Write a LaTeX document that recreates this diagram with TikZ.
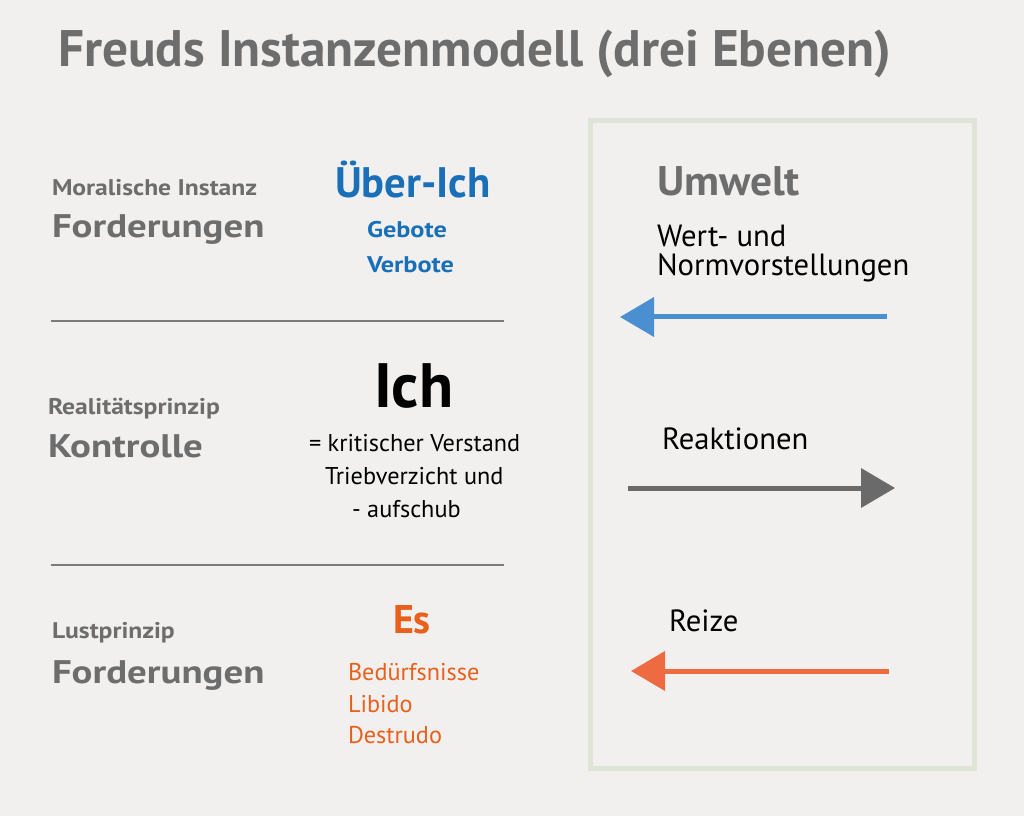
\documentclass[tikz,border=0pt]{standalone}
\usepackage{fontspec}
\setmainfont{PT Sans}
\usetikzlibrary{arrows.meta,positioning}
\definecolor{PaperGray}{HTML}{F1F0EE}
\definecolor{LabelGray}{HTML}{6D6D6D}
\definecolor{FrameGreen}{HTML}{DFE4D8}
\definecolor{UeberBlue}{HTML}{1A70B8}
\definecolor{EsOrange}{HTML}{E8601C}
\definecolor{ArrowBlue}{HTML}{4A8FD0}
\definecolor{ArrowOrange}{HTML}{EE6A40}
\definecolor{ArrowGray}{HTML}{6A6A6A}

\begin{document}
\begin{tikzpicture}[
          x=0.75pt, y=-0.75pt,
          every node/.style={inner sep=0pt, outer sep=0pt, anchor=base west},
          heading/.style={font=\fontsize{38.5}{40}\selectfont\bfseries, text=LabelGray},
          levelsub/.style={font=\fontsize{17}{20}\selectfont\bfseries\addfontfeatures{FakeStretch=1.13}, text=LabelGray},
          levelmain/.style={font=\fontsize{24.5}{28}\selectfont\bfseries\addfontfeatures{FakeStretch=1.19}, text=LabelGray},
          bodytext/.style={font=\fontsize{18.2}{20}\selectfont},
          envtext/.style={font=\fontsize{23}{26}\selectfont},
          divider/.style={draw=LabelGray!90, line width=1.5pt},
          flow/.style={line width=3.75pt, -{Triangle[length=25.5pt, width=29pt]}}
        ]
          % canvas
          \fill[PaperGray] (0,0) rectangle (1024,816);
          \useasboundingbox (0,0) rectangle (1024,816);

          \node[heading] (title) at (58,67) {Freuds Instanzenmodell (drei Ebenen)};

          % Ueber-Ich
          \node[levelsub] (moral) at (52,196) {Moralische Instanz};
          \node[levelmain] (ford1) at (52,238) {Forderungen};
          \node[font=\fontsize{32}{34}\selectfont\bfseries, text=UeberBlue] (ueberich) at (335,198) {Über-Ich};
          \node[font=\fontsize{17}{20}\selectfont\bfseries\addfontfeatures{FakeStretch=1.16}, text=UeberBlue] (gebote) at (367,238) {Gebote};
          \node[font=\fontsize{17}{20}\selectfont\bfseries\addfontfeatures{FakeStretch=1.16}, text=UeberBlue] (verbote) at (367,273) {Verbote};

          \coordinate (sep1a) at (51,321);
          \coordinate (sep1b) at (504,321);
          \draw[divider] (sep1a) -- (sep1b);

          % Ich
          \node[levelsub] (real) at (48,414) {Realitätsprinzip};
          \node[levelmain] (kontrolle) at (48,457) {Kontrolle};
          \node[font=\fontsize{47}{50}\selectfont\bfseries] (ich) at (374,407) {Ich};
          \node[bodytext] (ich1) at (309,451) {= kritischer Verstand};
          \node[bodytext] (ich2) at (325,484) {Triebverzicht und};
          \node[bodytext] (ich3) at (352,517) {- aufschub};

          \coordinate (sep2a) at (51,565);
          \coordinate (sep2b) at (504,565);
          \draw[divider] (sep2a) -- (sep2b);

          % Es
          \node[levelsub] (lust) at (52,638) {Lustprinzip};
          \node[levelmain] (ford2) at (52,683) {Forderungen};
          \node[font=\fontsize{30}{32}\selectfont\bfseries, text=EsOrange] (es) at (393,633) {Es};
          \node[bodytext, text=EsOrange] (beduerf) at (348,680) {Bedürfsnisse};
          \node[bodytext, text=EsOrange] (libido) at (348,712) {Libido};
          \node[bodytext, text=EsOrange] (destrudo) at (348,743) {Destrudo};

          % Umwelt
          \draw[FrameGreen, line width=3.75pt] (590,121) rectangle (974,768);
          \node[font=\fontsize{31}{34}\selectfont\bfseries\addfontfeatures{FakeStretch=1.05}, text=LabelGray] (umwelt) at (657,196) {Umwelt};
          \node[envtext] (wert) at (657,247) {Wert- und};
          \node[envtext] (norm) at (657,276) {Normvorstellungen};
          \node[envtext] (reakt) at (662,449) {Reaktionen};
          \node[envtext] (reize) at (669,631) {Reize};

          \coordinate (normA) at (887,317);
          \coordinate (normB) at (620,317);
          \coordinate (reaktA) at (628,488);
          \coordinate (reaktB) at (895,488);
          \coordinate (reizA) at (889,671);
          \coordinate (reizB) at (631,671);
          \draw[flow, ArrowBlue] (normA) -- (normB);
          \draw[flow, ArrowGray] (reaktA) -- (reaktB);
          \draw[flow, ArrowOrange] (reizA) -- (reizB);
        \end{tikzpicture}
\end{document}
